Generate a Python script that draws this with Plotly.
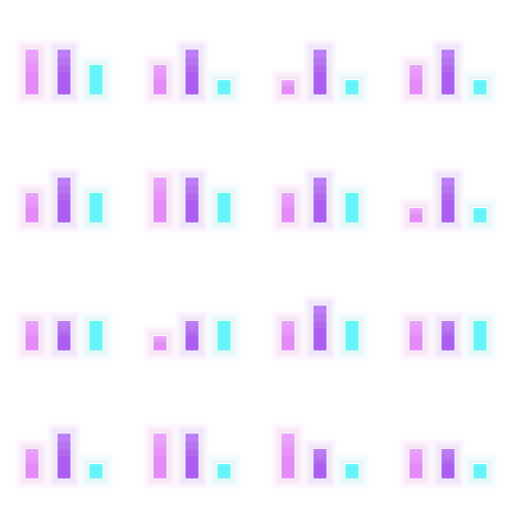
import plotly.graph_objects as go
from plotly.subplots import make_subplots

# data: 16 panels (row-major), three series each
categories = ["A", "B", "C"]
series_magenta = [3, 2, 1, 2, 2, 3, 2, 1, 2, 1, 2, 2, 2, 3, 3, 2]
series_purple = [3, 3, 3, 3, 3, 3, 3, 3, 2, 2, 3, 2, 3, 3, 2, 2]
series_cyan = [2, 1, 1, 1, 2, 2, 2, 1, 2, 2, 2, 2, 1, 1, 1, 1]

colors = ["#e48af8", "#ab5ef2", "#66f4f8"]
glow_colors = ["#d060f0", "#a050f0", "#40e8f8"]

fig = make_subplots(rows=4, cols=4, horizontal_spacing=0, vertical_spacing=0)

BW = 0.44
PXX = 32.0      # px per x unit
PXY = 46 / 3.0  # px per y unit
for i in range(16):
    r, c = i // 4 + 1, i % 4 + 1
    vals = [series_magenta[i], series_purple[i], series_cyan[i]]
    xs = [0, 1, 2]
    # soft glow: many thin layers
    for k in range(10, 0, -1):
        gx = k / PXX
        gy = k / PXY
        fig.add_trace(go.Bar(x=xs, y=[v + 2 * gy for v in vals],
                             base=[-gy] * 3, width=BW + 2 * gx,
                             marker=dict(color=glow_colors, line=dict(width=0)),
                             opacity=0.011, hoverinfo="skip", showlegend=False), row=r, col=c)
    fig.add_trace(go.Bar(x=xs, y=vals, width=BW,
                         marker=dict(color=colors, line=dict(color="white", width=1)),
                         showlegend=False), row=r, col=c)
    # graded top highlight
    for f in [0.5, 0.35, 0.2]:
        fig.add_trace(go.Bar(x=xs[:2], y=[v * f for v in vals[:2]],
                             base=[v * (1 - f) for v in vals[:2]], width=BW - 0.03,
                             marker=dict(color="white", line=dict(width=0)),
                             opacity=0.07, hoverinfo="skip", showlegend=False), row=r, col=c)

fig.update_xaxes(range=[-1, 3], visible=False, showgrid=False, zeroline=False)
fig.update_yaxes(range=[-33 / PXY, 95 / PXY], visible=False, showgrid=False, zeroline=False)
fig.update_layout(width=512, height=512, margin=dict(l=0, r=0, t=0, b=0),
                  barmode="overlay", paper_bgcolor="white", plot_bgcolor="white",
                  showlegend=False)
fig.write_html("out.html")
